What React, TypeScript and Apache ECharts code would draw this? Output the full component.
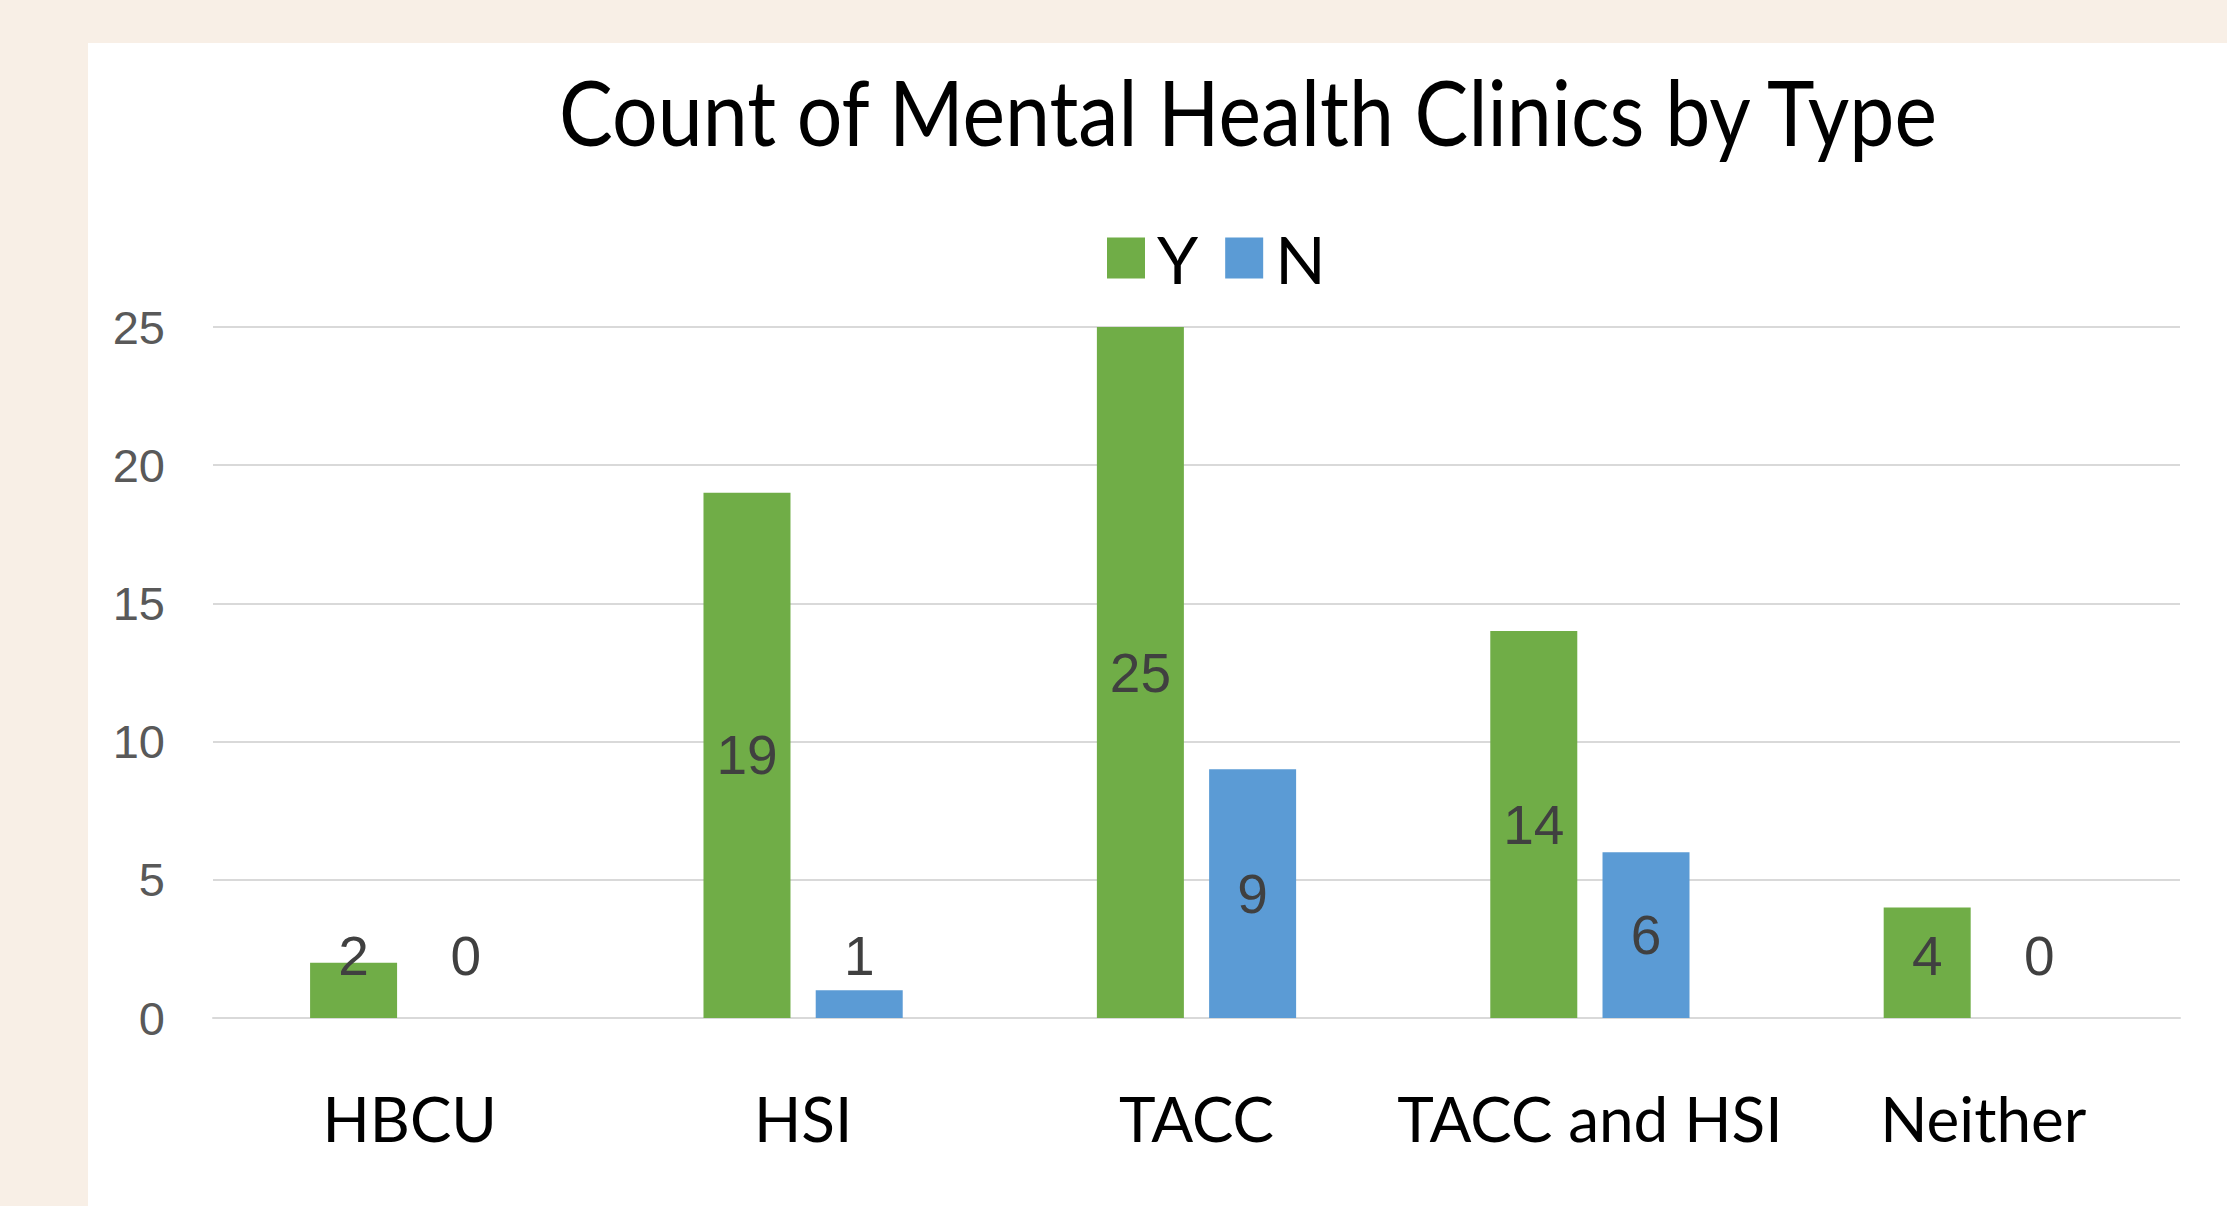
import React, { useEffect, useRef } from "react";
import * as echarts from "echarts";

const categories = ["HBCU", "HSI", "TACC", "TACC and HSI", "Neither"];
const seriesNames = ["Y", "N"];
const yValues = [2, 19, 25, 14, 4];
const nValues = [0, 1, 9, 6, 0];
const yMin = 0;
const yMax = 25;
const yStep = 5;
const titleText = "Count of Mental Health Clinics by Type";

const W = 2227;
const H = 1206;
const NARROW = "Lato, 'Liberation Sans Narrow', 'DejaVu Sans Condensed', sans-serif";
const WIDE = "'Liberation Sans', Arial, sans-serif";
const MIN_LABEL_CENTER = 62;

export default function App() {
  const ref = useRef<HTMLDivElement>(null);
  useEffect(() => {
    document.body.style.margin = "0";
    const chart = echarts.init(ref.current!, undefined, { renderer: "svg" });
    const labelLayout = (p: any) => {
      const r = p.rect;
      const lr = p.labelRect;
      const bottom = r.y + r.height;
      const desired = Math.min(r.y + r.height / 2, bottom - MIN_LABEL_CENTER);
      const cur = lr.y + lr.height / 2;
      return { dy: desired - cur };
    };
    const label = {
      show: true,
      position: "inside",
      fontSize: 55,
      fontFamily: WIDE,
      color: "#404040",
    };
    chart.setOption({
      animation: false,
      backgroundColor: "#F8EFE6",
      graphic: [
        {
          type: "rect",
          z: -100,
          silent: true,
          shape: { x: 88, y: 43, width: W - 88, height: H - 43 },
          style: { fill: "#ffffff" },
        },
        {
          type: "text",
          x: 1248,
          y: 111,
          scaleX: 0.886,
          silent: true,
          style: {
            text: titleText,
            font: `91px ${NARROW}`,
            fill: "#000000",
            align: "center",
            verticalAlign: "middle",
          },
        },
      ],
      legend: {
        data: seriesNames,
        left: 1102,
        top: 220,
        itemWidth: 38,
        itemHeight: 41,
        itemGap: 27,
        icon: "rect",
        textStyle: {
          fontSize: 66,
          lineHeight: 41,
          fontFamily: NARROW,
          color: "#000000",
          padding: [0, 0, 10, 7],
        },
      },
      grid: { left: 213, right: 47, top: 327, bottom: 188 },
      xAxis: {
        type: "category",
        data: categories,
        axisTick: { show: false },
        axisLine: { lineStyle: { color: "#D9D9D9", width: 2 } },
        axisLabel: {
          fontSize: 62,
          lineHeight: 62,
          fontFamily: NARROW,
          color: "#000000",
          margin: 69,
          interval: 0,
        },
      },
      yAxis: {
        type: "value",
        min: yMin,
        max: yMax,
        interval: yStep,
        axisLine: { show: false },
        axisTick: { show: false },
        axisLabel: { fontSize: 47, fontFamily: WIDE, color: "#595959", margin: 48 },
        splitLine: { lineStyle: { color: "#D9D9D9", width: 2 } },
      },
      series: [
        {
          name: seriesNames[0],
          type: "bar",
          data: yValues,
          barWidth: 87,
          barGap: "29%",
          itemStyle: { color: "#70AD47" },
          label,
          labelLayout,
        },
        {
          name: seriesNames[1],
          type: "bar",
          data: nValues,
          barWidth: 87,
          barGap: "29%",
          itemStyle: { color: "#5B9BD5" },
          label,
          labelLayout,
        },
      ],
    });
    return () => chart.dispose();
  }, []);
  return <div ref={ref} style={{ width: W, height: H }} />;
}
